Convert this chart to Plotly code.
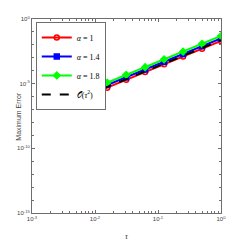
import plotly.graph_objects as go

tau = [1/256, 1/128, 1/64, 1/32, 1/16, 1/8, 1/4, 1/2, 1]
err_a1 = [3.1e-7, 1.24e-6, 4.9e-6, 1.97e-5, 7.9e-5, 3.15e-4, 1.26e-3, 5.0e-3, 2.0e-2]
err_a14 = [5.0e-7, 2.0e-6, 7.9e-6, 3.15e-5, 1.26e-4, 5.0e-4, 2.0e-3, 8.0e-3, 3.2e-2]
err_a18 = [7.5e-7, 3.0e-6, 1.2e-5, 4.8e-5, 1.9e-4, 7.6e-4, 3.0e-3, 1.2e-2, 4.9e-2]
ref_order2 = [3.5e-7, 1.4e-6, 5.6e-6, 2.25e-5, 9.0e-5, 3.6e-4, 1.44e-3, 5.75e-3, 2.3e-2]

names = ["<i>α</i> = 1", "<i>α</i> = 1.4", "<i>α</i> = 1.8", "𝒪(<i>τ</i><sup>2</sup>)"]
colors = ["#ff0000", "#0000ff", "#00ff00", "#000000"]
symbols = ["circle-open", "square", "diamond", None]

xtick_vals = [1e-3, 1e-2, 1e-1, 1]
xtick_text = ["10<sup>-3</sup>", "10<sup>-2</sup>", "10<sup>-1</sup>", "10<sup>0</sup>"]
ytick_vals = [1e-15, 1e-10, 1e-5, 1]
ytick_text = ["10<sup>-15</sup>", "10<sup>-10</sup>", "10<sup>-5</sup>", "10<sup>0</sup>"]

fig = go.Figure()
for ys, nm, c, s in zip([err_a1, err_a14, err_a18], names[:3], colors[:3], symbols[:3]):
    fig.add_trace(go.Scatter(x=tau, y=ys, name=nm, mode="lines+markers",
                             line=dict(color=c, width=2),
                             marker=dict(symbol=s, size=5, color=c, line=dict(color=c, width=1.5))))
fig.add_trace(go.Scatter(x=tau, y=ref_order2, name=names[3], mode="lines",
                         line=dict(color="black", width=2, dash="dash")))

axcol = "#6e6e6e"
common = dict(type="log", showline=True, linecolor=axcol, linewidth=1, mirror="ticks",
              ticks="inside", ticklen=3, tickcolor=axcol, showgrid=False, zeroline=False,
              automargin=False,
              tickfont=dict(family="Liberation Sans", size=6, color="#444"))
fig.update_xaxes(range=[-3, 0], tickvals=xtick_vals, ticktext=xtick_text,
                 minor=dict(ticks="inside", ticklen=2, tickcolor=axcol, dtick="D1"),
                 title=dict(text="<i>τ</i>", font=dict(family="Liberation Serif", size=8, color="#333"), standoff=12),
                 **common)
fig.update_yaxes(range=[-15, 0], tickvals=ytick_vals, ticktext=ytick_text,
                 minor=dict(ticks="inside", ticklen=2, tickcolor=axcol, dtick=1),
                 **common)
fig.add_annotation(text="Maximum Error", xref="paper", yref="paper", x=-0.105, y=0.5,
                   textangle=-90, showarrow=False,
                   font=dict(family="Liberation Sans", size=7, color="#444"))
fig.update_layout(width=245, height=245, margin=dict(l=32, r=24, t=19, b=32),
                  plot_bgcolor="white", paper_bgcolor="white",
                  legend=dict(x=0.02, y=0.985, xanchor="left", yanchor="top",
                              bgcolor="white", bordercolor=axcol, borderwidth=1,
                              font=dict(family="Liberation Serif", size=8, color="black"),
                              itemwidth=30, tracegroupgap=0))
fig.write_html("out.html", config={"displayModeBar": False},
               post_script="document.body.style.margin='0';document.body.style.padding='0';")
